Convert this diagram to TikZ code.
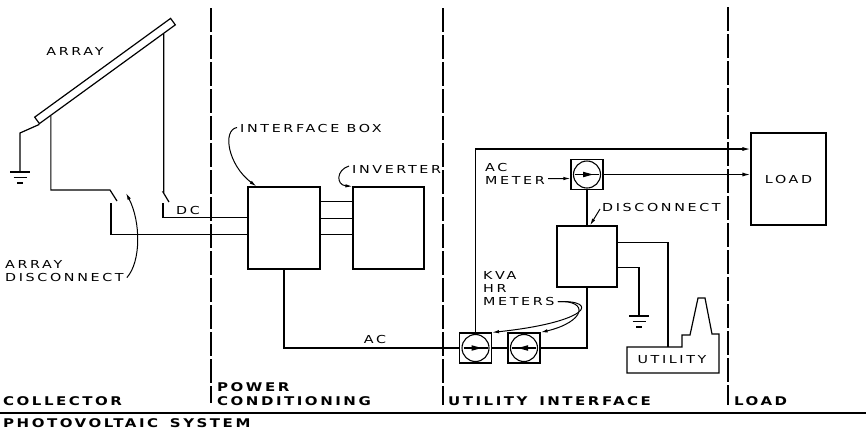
\documentclass[tikz,border=0pt]{standalone}
\usepackage{fontspec}
\newfontfamily\lettering{DejaVu Sans}[FakeStretch=1.3,LetterSpace=24]
\newfontfamily\heading{DejaVu Sans}[FakeStretch=1.25,LetterSpace=21]
\usetikzlibrary{arrows.meta,calc}

\tikzset{
  wire/.style={line width=1.2pt},
  box/.style={draw,line width=1.2pt,inner sep=0pt},
  meter/.style={draw,line width=1.2pt,minimum width=32pt,minimum height=30pt,inner sep=0pt},
  sep/.style={line width=1.2pt,dash pattern=on 24pt off 3pt},
  lbl/.style={font=\lettering\fontsize{11}{13}\selectfont,inner sep=0pt,align=left},
  head/.style={font=\heading\bfseries\fontsize{12}{14}\selectfont,inner sep=0pt,align=left},
  tip/.style={-{Latex[length=8pt,width=4pt]}},
  lead/.style={line width=1pt,-{Latex[length=7pt,width=3.5pt]}},
  pics/earth/.style={code={
    \draw[wire] (-10,0) -- (10,0) (-6.5,5.5) -- (6.5,5.5) (-3,11) -- (3,11);
  }},
  pics/dial/.style={code={
    \draw[line width=1.1pt] (0,0) circle[radius=13.5];
    \draw[wire] (-12,0) -- (12,0);
    \fill (6,0) -- (-4,-2.8) -- (-4,2.8) -- cycle;
  }}
}

\begin{document}
\begin{tikzpicture}[x=1pt,y=-1pt]
\useasboundingbox (0,0) rectangle (866,432);

% section separators
\coordinate (s1t) at (211,8);  \coordinate (s1b) at (211,403);
\coordinate (s2t) at (443,8);  \coordinate (s2b) at (443,405);
\coordinate (s3t) at (728,7);  \coordinate (s3b) at (728,405);
\draw[sep] (s1t) -- (s1b);
\draw[sep] (s2t) -- (s2b);
\draw[sep] (s3t) -- (s3b);

% collector: solar array on its stand
\node[box,minimum width=168pt,minimum height=8pt,rotate=36] (panel) at (105,71) {};
\node[lbl] (arrayl) at (75,51) {ARRAY};
\coordinate (g1) at (20,133);
\coordinate (e1) at (20,172);
\draw[wire] (panel.south west) -- (g1) -- (e1);
\pic at (e1) {earth};

% array disconnect switches
\coordinate (swL1) at (110,190);
\coordinate (swL2) at (117,201);
\coordinate (swL3) at (111,203);
\coordinate (swR1) at (163,192);
\coordinate (swR2) at (169,202);
\coordinate (swR3) at (163,203);
\draw[wire] ($(panel.south west)!0.085!(panel.south east)$) |- (swL1) -- (swL2);
\draw[wire] ($(panel.south west)!0.91!(panel.south east)$) |- (swR1) -- (swR2);

\node[lbl,anchor=north west] (adl) at (5,260) {ARRAY\\DISCONNECT};
\draw[lead] ($(adl.south east)+(3,-4)$) .. controls (141,262) and (141,222) .. (126,193);

% power conditioning
\node[box,minimum width=72pt,minimum height=82pt] (ibox) at (284,228) {};
\node[box,minimum width=71pt,minimum height=82pt] (inv) at (388.5,228) {};
\draw[wire] (swR3) |- ($(ibox.north west)+(0,31)$);
\draw[wire] (swL3) |- ($(ibox.north west)+(0,48)$);
\node[lbl] (dcl) at (188,210) {DC};
\foreach \dy in {15,32,48}
  \draw[wire] ($(ibox.north east)+(0,\dy)$) -- ($(inv.north west)+(0,\dy)$);

\node[lbl,anchor=west] (ibl) at (240,128.5) {INTERFACE BOX};
\draw[lead] ($(ibl.west)+(-3,-1)$) .. controls (222,130) and (228,165) .. ($(ibox.north west)+(9,0)$);
\node[lbl,anchor=west] (invl) at (352,169) {INVERTER};
\draw[lead] ($(invl.west)+(-3,-3)$) .. controls (336,170) and (336,185) .. (inv.north west);

% utility interface: kVA-hour meters, AC meter and disconnect
\node[meter] (m1) at (475.5,348) {};
\node[meter] (m2) at (524,348) {};
\node[meter] (acm) at (587,174.5) {};
\pic at (m1.center) {dial};
\pic[xscale=-1] at (m2.center) {dial};
\pic at (acm.center) {dial};

\node[box,minimum width=60pt,minimum height=61pt] (disc) at (587,256.5) {};

\draw[wire] (ibox.south) |- (m1.west);
\node[lbl] (acl) at (375,339) {AC};
\draw[wire] (m1.east) -- (m2.west);
\draw[wire] (disc.south) |- (m2.east);
\draw[wire] (acm.south) -- (disc.north);

% load
\node[box,minimum width=75pt,minimum height=92pt,font=\lettering\fontsize{11}{13}\selectfont] (load) at (788.5,179) {LOAD};
\draw[wire,tip] (m1.north) |- ($(load.west)+(0,-30)$);
\draw[wire,tip] (acm.east) -- (acm.east -| load.west);

\node[lbl,anchor=north west] (acml) at (485,163) {AC\\METER};
\draw[lead] ($(acml.south east)+(3,-6)$) -- ($(acm.west)+(0,4)$);

\node[lbl,anchor=west] (dl) at (602,207) {DISCONNECT};
\draw[lead] ($(dl.west)+(-2,2)$) -- ($(disc.north)+(3,0)$);

\node[lbl,anchor=north west] (kl) at (483,271) {KVA\\HR\\METERS};
\draw[lead] ($(kl.south east)+(3,-4)$) .. controls (600,300) and (590,322) .. (m1.north east);
\draw[lead] ($(kl.south east)+(3,-4)$) .. controls (590,300) and (585,322) .. (m2.north east);

% utility plant and earth
\coordinate (utop) at (668,347);
\coordinate (e2) at (639,316);
\draw[wire] ($(disc.north east)+(0,17)$) -| (utop);
\draw[wire] ($(disc.north east)+(0,42)$) -| (e2);
\pic at (e2) {earth};
\draw[wire,line join=miter] (627,373) -- (627,347) -- (682,347) -- (682,335) -- (690,335)
  -- (698,298) -- (705,298) -- (712,334) -- (719,334) -- (719,373) -- cycle;
\node[lbl] (utill) at (672,360) {UTILITY};

% section titles
\node[head,anchor=south west] (t1) at (3,406) {COLLECTOR};
\node[head,anchor=south west] (t2) at (217,406) {POWER\\CONDITIONING};
\node[head,anchor=south west] (t3) at (448,406) {UTILITY\hspace{4pt} INTERFACE};
\node[head,anchor=south west] (t4) at (734,406) {LOAD};

\coordinate (b1) at (0,413);
\coordinate (b2) at (866,413);
\draw[line width=2pt] (b1) -- (b2);
\node[head,anchor=south west] (t5) at (3,428) {PHOTOVOLTAIC\hspace{4pt} SYSTEM};
\end{tikzpicture}
\end{document}
